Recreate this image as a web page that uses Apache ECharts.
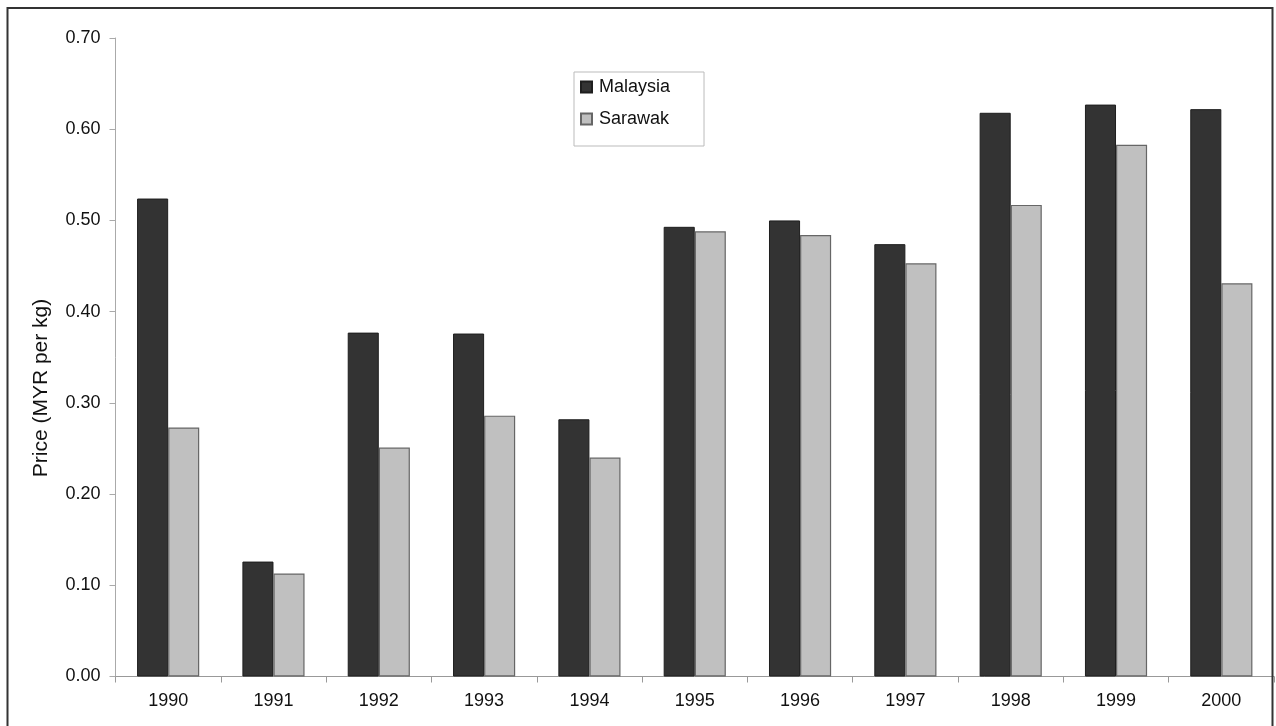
<!DOCTYPE html>
<html>
<head>
<meta charset="utf-8">
<script src="https://cdn.jsdelivr.net/npm/echarts@6/dist/echarts.min.js"></script>
<style>
html,body{margin:0;padding:0;background:#fff;}
#c{width:1276px;height:726px;}
</style>
</head>
<body>
<div id="c"></div>
<script>
const years = ['1990','1991','1992','1993','1994','1995','1996','1997','1998','1999','2000'];
const malaysia = [0.524, 0.126, 0.377, 0.376, 0.282, 0.493, 0.500, 0.474, 0.618, 0.627, 0.622];
const sarawak  = [0.273, 0.113, 0.251, 0.286, 0.240, 0.488, 0.484, 0.453, 0.517, 0.583, 0.431];
const yTicks = ['0.00','0.10','0.20','0.30','0.40','0.50','0.60','0.70'];

const FONT = 'Liberation Sans, Arial, sans-serif';
const chart = echarts.init(document.getElementById('c'));
chart.setOption({
  animation: false,
  backgroundColor: '#fff',
  textStyle: { fontFamily: FONT },
  graphic: [
    { type: 'rect', shape: { x: 7.5, y: 8, width: 1265, height: 740 },
      style: { fill: 'none', stroke: '#333', lineWidth: 2 }, z: 100 },
    { type: 'text', x: 41, y: 388, rotation: Math.PI / 2,
      style: { text: 'Price (MYR per kg)', fontSize: 21, fill: '#111',
        fontFamily: FONT, align: 'center', verticalAlign: 'middle' } }
  ],
  legend: {
    orient: 'vertical',
    left: 574, top: 72,
    data: ['Malaysia', 'Sarawak'],
    itemWidth: 11, itemHeight: 11, itemGap: 14,
    padding: [6, 34, 18, 6],
    borderColor: '#bbb', borderWidth: 1,
    textStyle: { fontSize: 18, color: '#111', fontFamily: FONT, padding: [0, 0, 0, 2] },
    icon: 'rect'
  },
  grid: { left: 115.5, right: 2, top: 38, bottom: 49.5, containLabel: false },
  xAxis: {
    type: 'category',
    data: years,
    boundaryGap: true,
    axisLine: { lineStyle: { color: '#999', width: 1 } },
    axisTick: { show: true, alignWithLabel: false, length: 6, lineStyle: { color: '#999' } },
    axisLabel: { fontSize: 18, color: '#111', margin: 16 },
    splitLine: { show: false }
  },
  yAxis: {
    type: 'value',
    min: 0, max: 0.7, interval: 0.1,
    axisLine: { show: true, lineStyle: { color: '#aaa', width: 1 } },
    axisTick: { show: true, length: 6, lineStyle: { color: '#aaa' } },
    axisLabel: { fontSize: 18, color: '#111', margin: 15,
      formatter: function (v) { return yTicks[Math.round(v * 10)]; } },
    splitLine: { show: false }
  },
  series: [
    { name: 'Malaysia', type: 'bar', data: malaysia, barWidth: '29.5%', barGap: '0%',
      itemStyle: { color: '#333333', borderColor: '#1e1e1e', borderWidth: 1 } },
    { name: 'Sarawak', type: 'bar', data: sarawak, barWidth: '29.5%', barGap: '0%',
      itemStyle: { color: '#c0c0c0', borderColor: '#666', borderWidth: 1.2 } }
  ]
});
</script>
</body>
</html>
